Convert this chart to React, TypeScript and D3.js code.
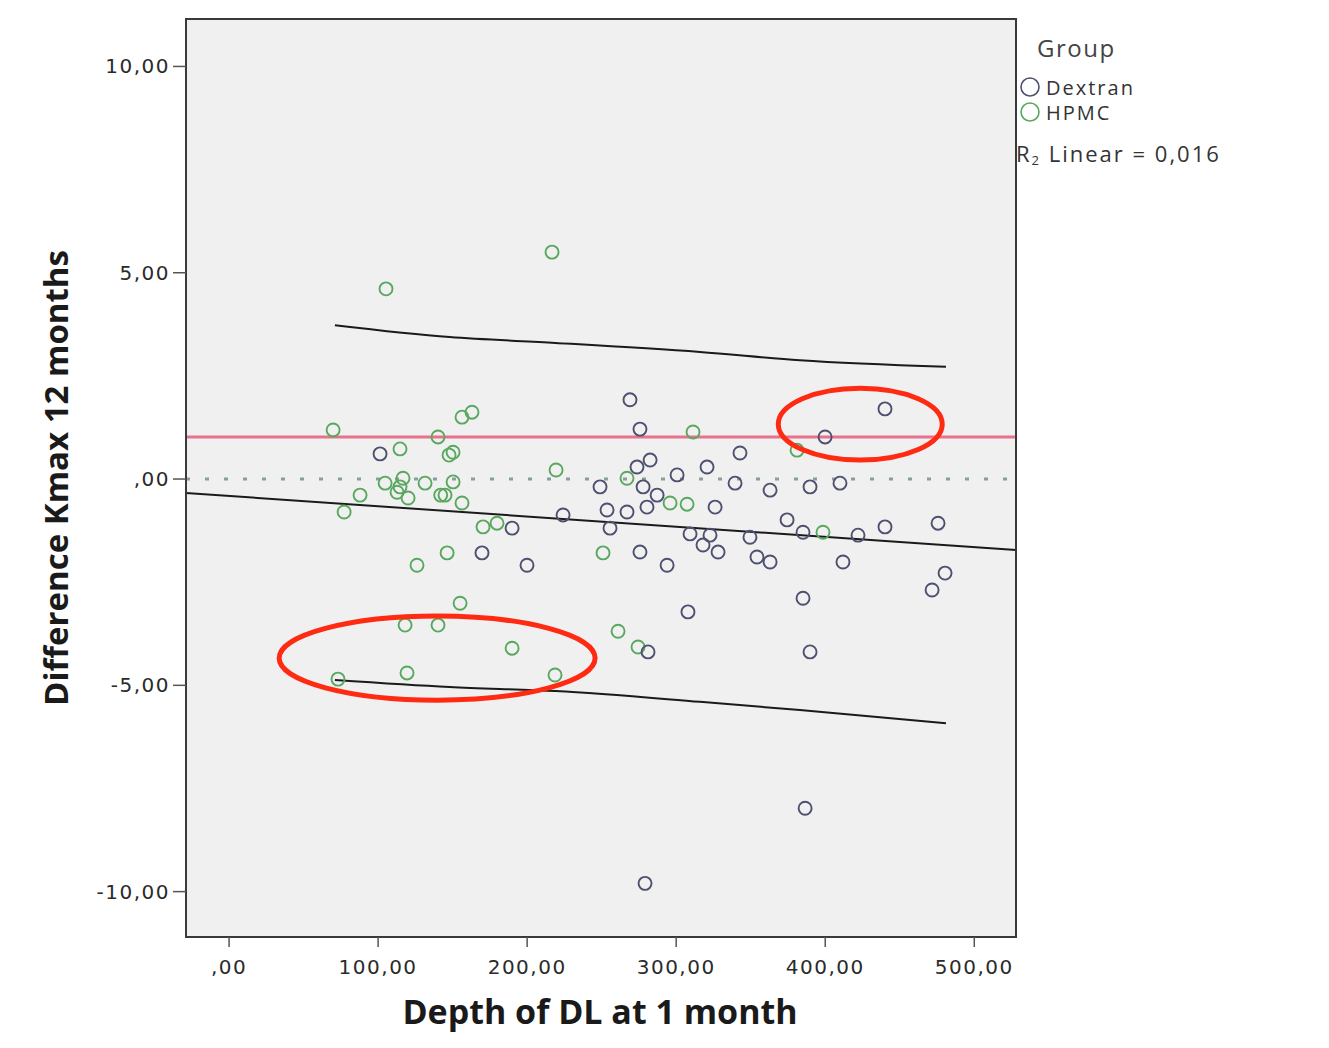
import { useEffect, useRef } from 'react';
import * as d3 from 'd3';

// Dextran group: [depth of DL at 1 month, difference Kmax 12 months]
const dextran: [number, number][] = [
  [101.3, 0.61], [269.0, 1.92], [275.7, 1.21], [248.9, -0.19], [273.7, 0.29],
  [282.5, 0.46], [277.8, -0.19], [287.2, -0.39], [300.6, 0.10], [320.7, 0.29],
  [342.8, 0.63], [339.5, -0.10], [363.0, -0.27], [280.4, -0.68], [326.1, -0.68],
  [224.1, -0.87], [253.6, -0.75], [267.0, -0.80], [255.6, -1.19], [374.4, -0.99],
  [309.3, -1.33], [322.7, -1.36], [318.0, -1.60], [328.1, -1.77], [349.5, -1.41],
  [275.7, -1.77], [293.9, -2.09], [354.2, -1.89], [363.0, -2.01], [440.1, 1.70],
  [399.9, 1.02], [389.8, -0.19], [409.9, -0.10], [385.1, -1.29], [422.0, -1.36],
  [440.1, -1.16], [475.7, -1.07], [411.9, -2.01], [480.4, -2.28], [471.7, -2.69],
  [385.1, -2.89], [307.9, -3.22], [389.8, -4.19], [386.5, -7.98], [279.1, -9.80],
  [169.7, -1.79], [199.9, -2.09], [189.9, -1.19], [281.1, -4.19]
];

const hpmc: [number, number][] = [
  [105.3, 4.61], [216.7, 5.50], [69.8, 1.19], [77.2, -0.80], [87.9, -0.39],
  [114.7, 0.73], [140.2, 1.02], [147.6, 0.58], [150.3, 0.65], [156.3, 1.50],
  [163.0, 1.62], [104.7, -0.10], [116.7, 0.02], [114.7, -0.19], [112.7, -0.32],
  [120.1, -0.46], [131.5, -0.10], [144.9, -0.39], [150.3, -0.07], [156.3, -0.58],
  [170.4, -1.16], [179.8, -1.07], [146.3, -1.79], [126.1, -2.09], [155.0, -3.01],
  [118.1, -3.54], [140.2, -3.54], [189.9, -4.10], [73.1, -4.85], [119.4, -4.70],
  [218.7, -4.75], [261.0, -3.69], [274.4, -4.07], [219.4, 0.22], [267.0, 0.02],
  [295.9, -0.58], [307.3, -0.61], [311.3, 1.14], [250.9, -1.79], [381.1, 0.70],
  [398.5, -1.29], [142.0, -0.39]
];

// fit line and individual prediction interval
const fitLine: [number, number][] = [[-29, -0.34], [528, -1.72]];
const upperBand: [number, number][] = [[71, 3.73], [148, 3.44], [219, 3.30], [316, 3.08], [383, 2.88], [481, 2.72]];
const lowerBand: [number, number][] = [[71, -4.87], [148, -5.04], [219, -5.14], [316, -5.40], [383, -5.60], [481, -5.92]];
const refLine = 1.02;

const xTicks = [0, 100, 200, 300, 400, 500];
const yTicks = [10, 5, 0, -5, -10];

// hand-drawn highlight ellipses: [cx, cy, rx, ry] in data units
const highlights: [number, number, number, number][] = [
  [423.5, 1.33, 55, 0.87],
  [139.6, -4.34, 106, 1.02]
];

// SPSS style: comma decimal, no leading zero, plain hyphen
const fmt = (v: number) => {
  const s = d3.format('.2f')(v).replace('.', ',').replace('−', '-');
  return s.replace(/^(-?)0,/, '$1,');
};

export default function App() {
  const svgRef = useRef<SVGSVGElement>(null);

  useEffect(() => {
    const svg = d3.select(svgRef.current);
    svg.selectAll('*').remove();

    const plot = { left: 186, right: 1016, top: 19, bottom: 937 };

    const x = d3.scaleLinear().domain([-28.9, 528]).range([plot.left, plot.right]);
    const y = d3.scaleLinear().domain([-11.1, 11.15]).range([plot.bottom, plot.top]);

    svg.append('rect')
      .attr('width', 1329).attr('height', 1048).attr('fill', '#ffffff');

    svg.append('rect')
      .attr('x', plot.left).attr('y', plot.top)
      .attr('width', plot.right - plot.left).attr('height', plot.bottom - plot.top)
      .attr('fill', '#f0f0f0');

    const clip = svg.append('g');

    // zero line
    clip.append('line')
      .attr('x1', plot.left).attr('x2', plot.right)
      .attr('y1', y(0)).attr('y2', y(0))
      .attr('stroke', '#86a09a').attr('stroke-width', 3)
      .attr('stroke-dasharray', '4,15');

    // reference line
    clip.append('line')
      .attr('x1', plot.left).attr('x2', plot.right)
      .attr('y1', y(refLine)).attr('y2', y(refLine))
      .attr('stroke', '#e8728c').attr('stroke-width', 3);

    const line = d3.line<[number, number]>()
      .x(d => x(d[0])).y(d => y(d[1]))
      .curve(d3.curveMonotoneX);

    [fitLine, upperBand, lowerBand].forEach(data => {
      clip.append('path')
        .datum(data)
        .attr('fill', 'none')
        .attr('stroke', '#1a1a1a')
        .attr('stroke-width', 2)
        .attr('d', line);
    });

    // points
    const drawPoints = (data: [number, number][], color: string) => {
      clip.append('g').selectAll('circle')
        .data(data)
        .join('circle')
        .attr('cx', d => x(d[0]))
        .attr('cy', d => y(d[1]))
        .attr('r', 6.5)
        .attr('fill', 'none')
        .attr('stroke', color)
        .attr('stroke-width', 1.9);
    };
    drawPoints(hpmc, '#5aa860');
    drawPoints(dextran, '#4e5070');

    // frame
    svg.append('rect')
      .attr('x', plot.left).attr('y', plot.top)
      .attr('width', plot.right - plot.left).attr('height', plot.bottom - plot.top)
      .attr('fill', 'none').attr('stroke', '#3a3a3a').attr('stroke-width', 2);

    // y axis
    const yAxis = svg.append('g');
    yAxis.selectAll('line')
      .data(yTicks).join('line')
      .attr('x1', plot.left - 13).attr('x2', plot.left)
      .attr('y1', d => y(d)).attr('y2', d => y(d))
      .attr('stroke', '#555').attr('stroke-width', 1.5);
    yAxis.selectAll('text')
      .data(yTicks).join('text')
      .attr('x', plot.left - 16)
      .attr('y', d => y(d) + 7)
      .attr('text-anchor', 'end')
      .style('font-family', 'DejaVu Sans')
      .style('font-size', '20px')
      .style('letter-spacing', '1.5px')
      .attr('fill', '#2a2a2a')
      .text(d => fmt(d));

    // x axis
    const xAxis = svg.append('g');
    xAxis.selectAll('line')
      .data(xTicks).join('line')
      .attr('x1', d => x(d)).attr('x2', d => x(d))
      .attr('y1', plot.bottom).attr('y2', plot.bottom + 10)
      .attr('stroke', '#555').attr('stroke-width', 1.5);
    xAxis.selectAll('text')
      .data(xTicks).join('text')
      .attr('x', d => x(d))
      .attr('y', plot.bottom + 37)
      .attr('text-anchor', 'middle')
      .style('font-family', 'DejaVu Sans')
      .style('font-size', '20px')
      .style('letter-spacing', '1.5px')
      .attr('fill', '#2a2a2a')
      .text(d => fmt(d));

    // axis titles
    svg.append('text')
      .attr('x', 600)
      .attr('y', 1024)
      .attr('text-anchor', 'middle')
      .style('font-family', 'Open Sans')
      .style('font-weight', 'bold')
      .style('font-size', '34px')
      .attr('fill', '#1a1a1a')
      .text('Depth of DL at 1 month');

    svg.append('text')
      .attr('transform', `translate(68, 478) rotate(-90)`)
      .attr('text-anchor', 'middle')
      .style('font-family', 'Open Sans')
      .style('font-weight', 'bold')
      .style('font-size', '33px')
      .attr('fill', '#1a1a1a')
      .text('Difference Kmax 12 months');

    // legend
    const legend = svg.append('g');
    legend.append('text')
      .attr('x', 1037).attr('y', 57)
      .style('font-family', 'Open Sans')
      .style('font-size', '24px')
      .style('letter-spacing', '1.5px')
      .attr('fill', '#444')
      .text('Group');
    const groups: [string, string][] = [['Dextran', '#4e5070'], ['HPMC', '#5aa860']];
    groups.forEach(([name, color], i) => {
      legend.append('circle')
        .attr('cx', 1030).attr('cy', 87 + i * 25)
        .attr('r', 9)
        .attr('fill', 'none').attr('stroke', color).attr('stroke-width', 1.6);
      legend.append('text')
        .attr('x', 1046).attr('y', 95 + i * 25)
        .style('font-family', 'Open Sans')
        .style('font-size', '20px')
        .style('letter-spacing', '2px')
        .attr('fill', '#333')
        .text(name);
    });
    const r2 = legend.append('text')
      .attr('x', 1016).attr('y', 162)
      .style('font-family', 'Open Sans')
      .style('font-size', '22px')
      .style('letter-spacing', '2px')
      .attr('fill', '#333');
    r2.append('tspan').text('R');
    r2.append('tspan').attr('dy', 3).style('font-size', '13px').text('2');
    r2.append('tspan').attr('dy', -3).text(' Linear = 0,016');

    // red highlight ellipses
    svg.append('g').selectAll('ellipse')
      .data(highlights).join('ellipse')
      .attr('cx', d => x(d[0]))
      .attr('cy', d => y(d[1]))
      .attr('rx', d => x(d[0] + d[2]) - x(d[0]))
      .attr('ry', d => y(d[1] - d[3]) - y(d[1]))
      .attr('fill', 'none')
      .attr('stroke', '#ff2a12')
      .attr('stroke-width', 5);
  }, []);

  return (
    <svg ref={svgRef} width={1329} height={1048}
      style={{ position: 'absolute', left: 0, top: 0 }} />
  );
}
